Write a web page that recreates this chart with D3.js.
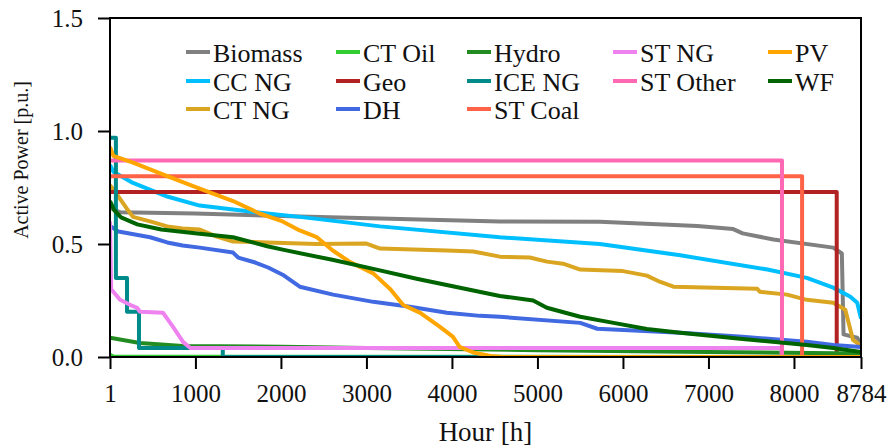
<!DOCTYPE html>
<html>
<head>
<meta charset="utf-8">
<script src="https://cdn.jsdelivr.net/npm/d3@7"></script>
<style>
    body { margin: 0; background: #fff; }
    svg { display: block; font-family: "Liberation Serif", "DejaVu Serif", serif; }
</style>
</head>
<body>
<svg id="chart" width="890" height="448"></svg>
<script>
// duration curves, [hour, p.u.]
const biomass = [[1, 0.66], [120, 0.64], [1000, 0.635], [2220, 0.622], [3160, 0.613], [4560, 0.600], [5730, 0.598],
    [6870, 0.58], [7290, 0.566], [7400, 0.547], [7760, 0.52], [8460, 0.484], [8560, 0.458], [8580, 0.10], [8740, 0.085], [8784, 0.06]];
const ccNG = [[1, 0.85], [40, 0.82], [270, 0.77], [670, 0.71], [1050, 0.67], [1440, 0.653], [1840, 0.635], [2220, 0.62],
    [3160, 0.578], [4560, 0.53], [5730, 0.50], [6670, 0.45], [7690, 0.387], [8150, 0.35], [8460, 0.307], [8660, 0.267], [8740, 0.24], [8784, 0.17]];
const ctNG = [[1, 0.76], [100, 0.71], [200, 0.655], [270, 0.62], [470, 0.60], [670, 0.578], [850, 0.569], [1050, 0.564],
    [1250, 0.533], [1440, 0.511], [1840, 0.507], [2420, 0.50], [3000, 0.502], [3160, 0.48], [3940, 0.471], [4250, 0.467],
    [4560, 0.444], [4910, 0.44], [5110, 0.422], [5300, 0.413], [5500, 0.387], [6000, 0.38], [6280, 0.36], [6430, 0.333],
    [6590, 0.311], [7570, 0.302], [7600, 0.289], [7920, 0.276], [8150, 0.253], [8460, 0.24], [8600, 0.209], [8690, 0.076], [8784, 0.05]];
const ctOil = [[1, 0.01], [40, 0.002], [8784, 0.0]];
const geo = [[1, 0.73], [8500, 0.73], [8500, 0.0], [8784, 0.0]];
const dh = [[1, 0.58], [100, 0.555], [470, 0.53], [670, 0.507], [850, 0.493], [1050, 0.484], [1440, 0.462], [1500, 0.44],
    [1700, 0.418], [1850, 0.396], [2020, 0.364], [2220, 0.311], [2610, 0.276], [3080, 0.244], [3510, 0.222], [3940, 0.196],
    [4330, 0.182], [4560, 0.178], [5500, 0.151], [5700, 0.125], [6670, 0.107], [7400, 0.09], [8150, 0.067], [8460, 0.053], [8784, 0.044]];
const hydro = [[1, 0.085], [350, 0.062], [850, 0.049], [2000, 0.045], [3000, 0.04], [5000, 0.03], [7000, 0.022], [8784, 0.015]];
const iceNG = [[1, 0.97], [70, 0.97], [70, 0.35], [200, 0.35], [200, 0.20], [340, 0.20], [340, 0.04], [1320, 0.04], [1320, 0.0], [8784, 0.0]];
const stCoal = [[1, 0.80], [8095, 0.80], [8095, 0.0], [8784, 0.0]];
const stNG = [[1, 0.60], [15, 0.30], [60, 0.28], [118, 0.253], [235, 0.231], [317, 0.218], [352, 0.20], [620, 0.196],
    [738, 0.133], [855, 0.067], [940, 0.04], [7850, 0.04], [7860, 0.0], [8784, 0.0]];
const stOther = [[1, 0.87], [7860, 0.87], [7860, 0.0], [8784, 0.0]];
const pv = [[1, 0.93], [40, 0.89], [270, 0.86], [670, 0.80], [1050, 0.745], [1440, 0.69], [1750, 0.635], [2020, 0.60],
    [2220, 0.56], [2420, 0.53], [2610, 0.47], [2810, 0.42], [3080, 0.37], [3280, 0.30], [3430, 0.23], [3630, 0.195],
    [3860, 0.133], [4010, 0.09], [4090, 0.045], [4250, 0.02], [4450, 0.005], [4600, 0.0], [8784, 0.0]];
const wf = [[1, 0.69], [50, 0.65], [130, 0.618], [320, 0.587], [600, 0.564], [1050, 0.545], [1440, 0.53], [1840, 0.49],
    [2020, 0.475], [2600, 0.43], [3080, 0.39], [3600, 0.345], [4560, 0.27], [4950, 0.25], [5110, 0.218], [5500, 0.178],
    [5890, 0.151], [6280, 0.124], [6670, 0.107], [7400, 0.08], [8150, 0.053], [8460, 0.04], [8784, 0.022]];

const seriesNames = ["Biomass", "CC NG", "CT NG", "CT Oil", "Geo", "DH", "Hydro", "ICE NG", "ST Coal", "ST NG", "ST Other", "PV", "WF"];
const seriesData = [biomass, ccNG, ctNG, ctOil, geo, dh, hydro, iceNG, stCoal, stNG, stOther, pv, wf];
const seriesColors = ["#808080", "#00bfff", "#daa520", "#32cd32", "#b22222", "#4169e1", "#228b22", "#008b8b",
    "#ff6347", "#ee82ee", "#ff69b4", "#ffa500", "#006400"];

const xTicks = [1, 1000, 2000, 3000, 4000, 5000, 6000, 7000, 8000, 8784];
const yTicks = [0, 0.5, 1.0, 1.5];

const margin = { top: 18, right: 29, bottom: 91, left: 110 };
const width = 890 - margin.left - margin.right;
const height = 448 - margin.top - margin.bottom;

const svg = d3.select("#chart");
const g = svg.append("g").attr("transform", `translate(${margin.left},${margin.top})`);

const x = d3.scaleLinear().domain([1, 8784]).range([0, width]);
const y = d3.scaleLinear().domain([0, 1.5]).range([height, 0]);

g.append("clipPath").attr("id", "plot-clip")
    .append("rect").attr("width", width).attr("height", height);

const line = d3.line().x(d => x(d[0])).y(d => y(d[1]));

g.append("g").attr("clip-path", "url(#plot-clip)")
    .selectAll("path")
    .data(seriesData)
    .join("path")
    .attr("d", line)
    .attr("fill", "none")
    .attr("stroke", (d, i) => seriesColors[i])
    .attr("stroke-width", 4)
    .attr("stroke-linejoin", "round");

// axes
const xAxis = g.append("g")
    .attr("transform", `translate(0,${height})`)
    .call(d3.axisBottom(x).tickValues(xTicks).tickFormat(d3.format("d")).tickSize(12).tickSizeOuter(0).tickPadding(15));
const yAxis = g.append("g")
    .call(d3.axisLeft(y).tickValues(yTicks).tickFormat(d3.format(".1f")).tickSize(12).tickSizeOuter(0).tickPadding(15));

[xAxis, yAxis].forEach(a => {
    a.attr("font-family", null);
    a.select(".domain").remove();
    a.selectAll(".tick line").attr("stroke", "#000").attr("stroke-width", 2);
    a.selectAll(".tick text").attr("fill", "#111").style("font-size", "25px");
});

// frame
g.append("rect")
    .attr("width", width)
    .attr("height", height)
    .attr("fill", "none")
    .attr("stroke", "#000")
    .attr("stroke-width", 2);

// axis titles
svg.append("text")
    .attr("x", margin.left + width / 2)
    .attr("y", 441)
    .attr("text-anchor", "middle")
    .style("font-size", "27px")
    .attr("fill", "#111")
    .text("Hour [h]");

svg.append("text")
    .attr("transform", "translate(28,160) rotate(-90)")
    .attr("text-anchor", "middle")
    .style("font-size", "20px")
    .attr("fill", "#111")
    .text("Active Power [p.u.]");

// legend: 5 columns, first three hold 3 entries, last two hold 2
const legendCols = [186, 336, 467, 613, 768];
const legendRows = [62, 91, 119];
const colOf = i => i < 9 ? Math.floor(i / 3) : 3 + Math.floor((i - 9) / 2);
const rowOf = i => i < 9 ? i % 3 : (i - 9) % 2;

const item = svg.append("g").attr("class", "legend")
    .selectAll(".legend-item")
    .data(seriesNames)
    .join("g")
    .attr("class", "legend-item")
    .attr("transform", (d, i) => `translate(${legendCols[colOf(i)]},${legendRows[rowOf(i)]})`);

item.append("line")
    .attr("x1", 0).attr("x2", 24)
    .attr("y1", -10).attr("y2", -10)
    .attr("stroke", (d, i) => seriesColors[i])
    .attr("stroke-width", 4);

item.append("text")
    .attr("x", 27)
    .attr("y", 0)
    .style("font-size", "26px")
    .attr("fill", "#111")
    .text(d => d);
</script>
</body>
</html>
